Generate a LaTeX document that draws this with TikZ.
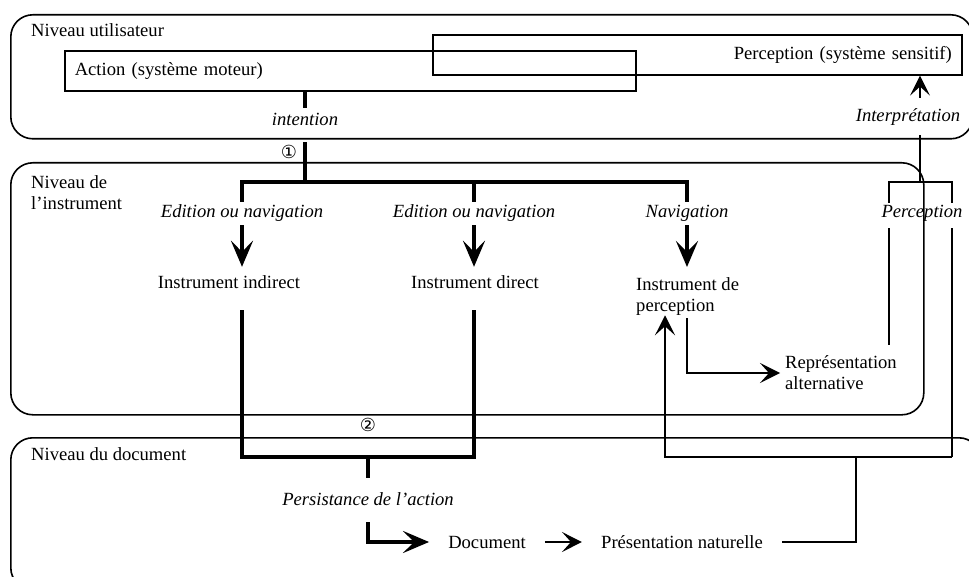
\documentclass[tikz,border=0pt]{standalone}
\usepackage{fontspec}
\setmainfont{Liberation Serif}
\newfontfamily\circfont{DejaVu Sans}
\usetikzlibrary{arrows.meta}
\tikzset{
    tier/.style={draw, line width=1.6pt, rounded corners=22pt, anchor=north west, inner sep=0pt},
    box/.style={draw, line width=1.6pt, anchor=north west, minimum height=40pt, inner xsep=10pt, inner ysep=0pt},
    lbl/.style={font=\itshape, inner sep=0pt, anchor=base},
    heavy/.style={line width=4pt},
    light/.style={line width=1.6pt},
    bigtip/.style={-{Stealth[length=26pt,width=22pt,inset=11pt]}},
    smalltip/.style={-{Stealth[length=20pt,width=20pt,inset=9pt]}},
    num/.style={font=\circfont\fontsize{18}{18}\selectfont, inner sep=0pt}
}
\begin{document}
\fontsize{18.6}{21}\selectfont
\begin{tikzpicture}[x=1pt,y=-1pt,line join=miter]
    \useasboundingbox (0,0) rectangle (969,577);
    \clip (0,0) rectangle (969,577);
    \node (userLevel) [tier, minimum width=962pt, minimum height=124pt] at (10,14) {};
    \node (instrLevel) [tier, minimum width=913pt, minimum height=252pt] at (10,162) {};
    \node (docLevel) [tier, minimum width=970pt, minimum height=152pt] at (10,437) {};
    \node (userLbl) [anchor=base west, inner sep=0pt] at (31,37) {Niveau utilisateur};
    \node (instrLbl) [anchor=north west, inner sep=0pt, align=left] at (31,175) {Niveau de\\l'instrument};
    \node (docLbl) [anchor=base west, inner sep=0pt] at (31,460) {Niveau du document};

    \node (action) [box, text width=551pt, align=left] at (64,50) {Action (système moteur)};
    \node (perception) [box, text width=509pt, align=right] at (432,34) {Perception (système sensitif)};
    \node (intention) [lbl, text height=18pt, text depth=16pt] at (305,126) {intention};
    \node (interp) [lbl, text height=24pt, text depth=13pt] at (908,122) {Interprétation};
    \node (num1) [num] at (289,152) {①};
    \coordinate (fork) at (305,182);

    \node (editInd) [lbl, text height=16pt, text depth=7pt] at (242,218) {Edition ou navigation};
    \node (editDir) [lbl, text height=16pt, text depth=7pt] at (474,218) {Edition ou navigation};
    \node (navLbl) [lbl, text height=16pt, text depth=7pt] at (687,218) {Navigation};
    \node (percLbl) [lbl, text height=15pt, text depth=10pt] at (922,218) {Perception};
    \node (instrInd) [anchor=base, inner sep=0pt, text height=22pt, text depth=21pt] at (229,289) {Instrument indirect};
    \node (instrDir) [anchor=base, inner sep=0pt, text height=22pt, text depth=21pt] at (475,289) {Instrument direct};
    \node (instrPerc) [anchor=north west, align=left, inner xsep=5pt, inner ysep=10pt] at (631,267) {Instrument de\\perception};
    \node (repAlt) [anchor=west, align=left, inner xsep=5pt, inner ysep=11pt] at (780,373) {Représentation\\alternative};

    \node (num2) [num] at (368,425) {②};
    \coordinate (merge) at (368,457);
    \node (persist) [lbl, text height=27pt, text depth=17pt] at (368,505) {Persistance de l'action};
    \node (document) [anchor=base, inner xsep=19pt, inner ysep=0pt, text height=12pt, text depth=0pt] at (487,548) {Document};
    \node (presNat) [anchor=base, inner xsep=19pt, inner ysep=0pt, text height=12pt, text depth=0pt] at (682,548) {Présentation naturelle};

    \coordinate (jN) at (856,457);
    \coordinate (jL) at (665,457);
    \coordinate (jR) at (952,457);
    \coordinate (bL) at (889,182);
    \coordinate (bR) at (952,182);
    \coordinate (jP) at (920,182);

    \draw[heavy] (action.south -| intention) -- (intention.north);
    \draw[heavy] (intention.south) -- (fork);
    \draw[heavy] (editInd.north) |- (fork) -| (navLbl.north);
    \draw[heavy] (editDir.north) -- (editDir.north |- fork);
    \draw[heavy, bigtip] (editInd.south) -- (editInd.south |- instrInd.north);
    \draw[heavy, bigtip] (editDir.south) -- (editDir.south |- instrDir.north);
    \draw[heavy, bigtip] (navLbl.south) -- (navLbl.south |- instrPerc.north);
    \draw[heavy] (editInd |- instrInd.south) |- (merge) -| (editDir |- instrDir.south);
    \draw[heavy] (merge) -- (persist.north);
    \draw[heavy, bigtip] (persist.south) |- (document.west);

    \draw[light, smalltip] (document.east) -- (presNat.west);
    \draw[light] (presNat.east) -| (jN);
    \draw[light, smalltip, shorten >=-10pt] (jR) -- (jL) -- (jL |- instrPerc.south);
    \draw[light, smalltip, shorten <=-7pt] (navLbl |- instrPerc.south) |- (repAlt.west);
    \draw[light] (bR |- percLbl.south) -- (jR);
    \draw[light] (bL |- percLbl.south) -- (bL |- repAlt.north);
    \draw[light] (bL |- percLbl.north) -- (bL) -- (bR) -- (bR |- percLbl.north);
    \draw[light] (jP) -- (jP |- interp.south);
    \draw[light, smalltip] (jP |- interp.north) -- (jP |- perception.south);
\end{tikzpicture}
\end{document}
